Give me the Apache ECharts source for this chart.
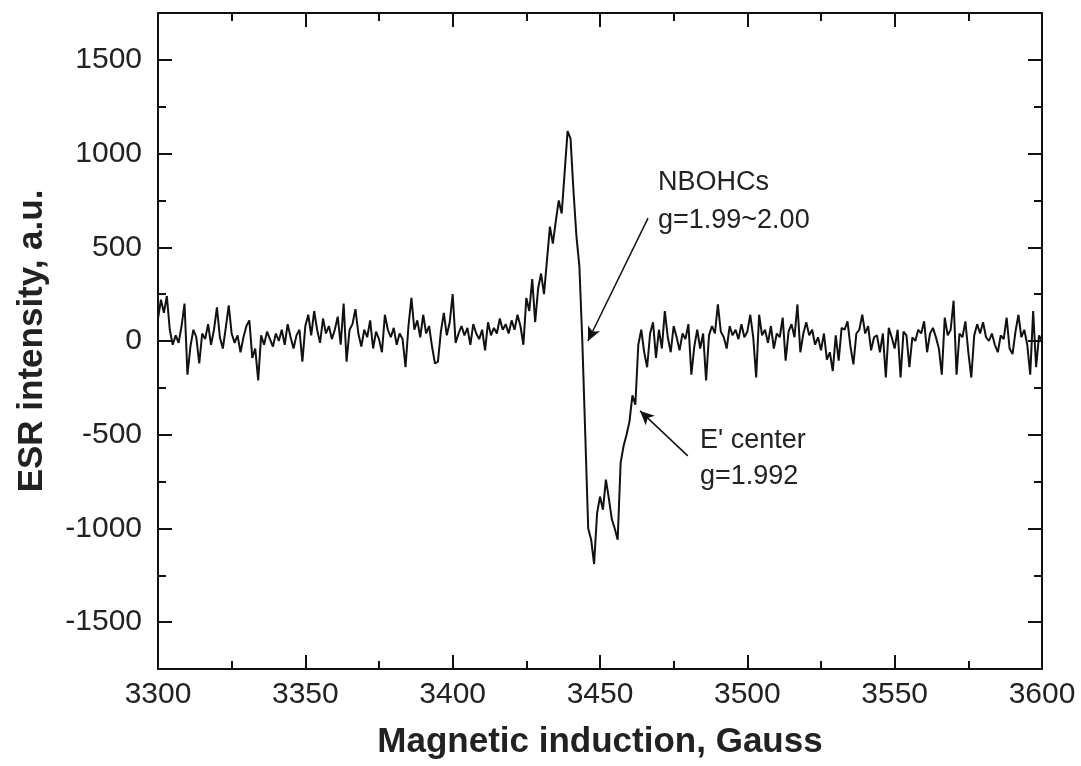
<!DOCTYPE html>
<html>
<head>
<meta charset="utf-8">
<script src="https://cdn.jsdelivr.net/npm/echarts@6/dist/echarts.min.js"></script>
<style>html,body{margin:0;padding:0;background:#fff}#c{width:1081px;height:766px}</style>
</head>
<body>
<div id="c"></div>
<script>
// Magnetic field (Gauss): 3300..3600, step 1
const fieldStart = 3300;
const fieldStep = 1;
// ESR intensity (a.u.), one value per Gauss
const intensity = [
  120, 220, 150, 240, 60, -20, 30, -10, 80, 200,
  -180, -30, 60, 20, -120, 40, 10, 90, -20, 60,
  180, 20, -40, 70, 190, 40, -10, 30, -60, 20,
  80, 110, -90, -40, -210, 30, -20, 50, 10, -30,
  40, 0, 60, -20, 90, 20, -40, 30, 60, -110,
  80, 140, 30, 160, 60, -10, 120, 40, 80, 10,
  60, 130, -20, 200, -110, 60, 90, 170, 40, -30,
  60, 20, 110, -40, 50, 10, -60, 140, 60, 20,
  70, -20, 40, 10, -140, 80, 230, 60, 110, 20,
  140, 40, 80, -30, -120, -110, 50, 150, 30, 100,
  250, -10, 40, 80, 30, 70, -20, 90, 40, 10,
  60, -50, 100, 30, 70, 40, 120, 60, 90, 40,
  110, 60, 140, 80, -20, 230, 160, 330, 100, 280,
  360, 250, 430, 610, 520, 640, 750, 680, 900, 1120,
  1080, 800, 560, 400, 0, -500, -1000, -1060, -1190, -920,
  -830, -900, -740, -840, -950, -1000, -1060, -650, -560, -500,
  -430, -290, -340, -20, 60, -60, -140, 40, 100, -90,
  60, -40, 160, 20, -60, 80, 20, -50, 40, 10,
  90, -180, -30, 60, -40, 40, -210, 30, 80, 40,
  195, 50, 20, -40, 80, 30, 60, 10, 90, 20,
  50, 140, 20, -195, 140, 30, 60, -10, 80, -40,
  40, 20, 125, -105, 50, 90, 20, 195, -60, 40,
  100, 30, 60, -20, 20, -50, 40, -100, -60, -160,
  30, -105, 70, 60, 105, -30, -125, 40, 60, 140,
  40, 80, -50, 20, 30, -60, 40, -195, 70, 20,
  -40, 60, -195, 50, 30, -140, 20, 0, 60, 40,
  105, -60, 40, 70, 20, -40, -180, 125, 30, 60,
  215, -180, 40, 20, 105, -60, -195, 30, 90, 40,
  100, 20, 0, 40, -20, -60, 30, 10, 125, -40,
  -70, 50, 140, 20, 60, -20, -180, 160, -140, 30,
  0
];
const yMajorTicks = [-1500, -1000, -500, 0, 500, 1000, 1500];
const yMinorTicks = [-1250, -750, -250, 250, 750, 1250];
// Annotation arrows: [from, to] in data coordinates
const nbohcArrow = [[3466.3, 656], [3445.9, 0]];
const eArrow = [[3479.8, -613], [3463.6, -373]];
const nbohcLabel = ['NBOHCs', 'g=1.99~2.00'];
const eLabel = ["E' center", 'g=1.992'];

const seriesData = intensity.map((v, i) => [fieldStart + i * fieldStep, v]);

const font = 'Liberation Sans, Arial, sans-serif';
const lineCol = '#111';
const axisLine = { show: true, onZero: false, lineStyle: { color: lineCol, width: 2 } };

function xAx(pos, withLabel) {
  const a = {
    type: 'value', min: 3300, max: 3600, interval: 50, position: pos,
    axisLine: axisLine,
    axisTick: { show: true, inside: true, length: 14, lineStyle: { color: lineCol, width: 2 } },
    minorTick: { show: true, splitNumber: 2, length: 8, lineStyle: { color: lineCol, width: 2 } },
    splitLine: { show: false },
    axisLabel: withLabel
      ? { fontFamily: font, fontSize: 30, color: '#222', margin: 11, formatter: v => String(v) }
      : { show: false }
  };
  if (withLabel) {
    a.name = 'Magnetic induction, Gauss';
    a.nameLocation = 'middle';
    a.nameGap = 56;
    a.nameTextStyle = { fontFamily: font, fontWeight: 'bold', fontSize: 35, color: '#222' };
  }
  return a;
}
function yAx(pos, ticks, len, withLabel) {
  const a = {
    type: 'value', min: -1750, max: 1750, interval: 250, position: pos,
    axisLine: axisLine,
    axisTick: { show: true, inside: true, length: len, customValues: ticks, lineStyle: { color: lineCol, width: 2 } },
    splitLine: { show: false },
    axisLabel: withLabel
      ? { fontFamily: font, fontSize: 30, color: '#222', margin: 16, customValues: ticks, formatter: v => String(v) }
      : { show: false }
  };
  if (withLabel) {
    a.name = 'ESR intensity, a.u.';
    a.nameLocation = 'middle';
    a.nameGap = 108;
    a.nameTextStyle = { fontFamily: font, fontWeight: 'bold', fontSize: 35, color: '#222' };
  }
  return a;
}

const chart = echarts.init(document.getElementById('c'));
chart.setOption({
  animation: false,
  backgroundColor: '#fff',
  grid: { left: 158, right: 39, top: 13, bottom: 97 },
  xAxis: [xAx('bottom', true), xAx('top', false)],
  yAxis: [
    yAx('left', yMajorTicks, 14, true),
    yAx('left', yMinorTicks, 8, false),
    yAx('right', yMajorTicks, 14, false),
    yAx('right', yMinorTicks, 8, false)
  ],
  series: [{
    type: 'line',
    xAxisIndex: 0,
    yAxisIndex: 0,
    data: seriesData,
    showSymbol: false,
    lineStyle: { color: lineCol, width: 2 },
    markLine: {
      silent: true,
      symbol: ['none', 'arrow'],
      symbolSize: [10, 14],
      label: { show: false },
      lineStyle: { color: lineCol, width: 1.5, type: 'solid' },
      data: [
        [{ coord: nbohcArrow[0] }, { coord: nbohcArrow[1] }],
        [{ coord: eArrow[0] }, { coord: eArrow[1] }]
      ]
    }
  }],
  graphic: [
    { type: 'text', left: 658, top: 169, style: { text: nbohcLabel[0], font: '27px ' + font, fill: '#222' } },
    { type: 'text', left: 658, top: 207, style: { text: nbohcLabel[1], font: '27px ' + font, fill: '#222' } },
    { type: 'text', left: 700, top: 427, style: { text: eLabel[0], font: '27px ' + font, fill: '#222' } },
    { type: 'text', left: 700, top: 463, style: { text: eLabel[1], font: '27px ' + font, fill: '#222' } }
  ]
});
</script>
</body>
</html>
